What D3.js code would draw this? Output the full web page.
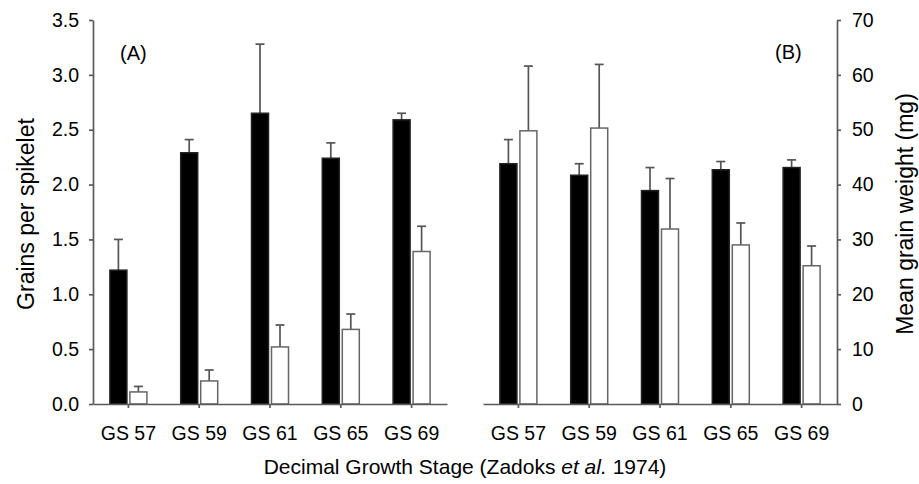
<!DOCTYPE html>
<html>
<head>
<meta charset="utf-8">
<script src="https://cdn.jsdelivr.net/npm/d3@7/dist/d3.min.js"></script>
<style>
  html, body { margin: 0; padding: 0; background: #fff; }
  svg { display: block; font-family: Arial, "Liberation Sans", Helvetica, sans-serif; }
</style>
</head>
<body>
<svg id="chart" width="919" height="484"></svg>
<script>
// Growth stages on the x axis of both panels
const stages = ["GS 57", "GS 59", "GS 61", "GS 65", "GS 69"];

// Panel A: grains per spikelet (mean and upper error)
const grainsBlack    = [1.22, 2.29, 2.65, 2.24, 2.59];
const grainsBlackErr = [0.28, 0.12, 0.63, 0.14, 0.06];
const grainsWhite    = [0.11, 0.21, 0.52, 0.68, 1.39];
const grainsWhiteErr = [0.05, 0.10, 0.20, 0.14, 0.23];

// Panel B: mean grain weight in mg (mean and upper error)
const weightBlack    = [43.8, 41.7, 38.9, 42.7, 43.1];
const weightBlackErr = [4.4, 2.1, 4.2, 1.5, 1.4];
const weightWhite    = [49.8, 50.3, 31.9, 29.0, 25.2];
const weightWhiteErr = [11.8, 11.6, 9.2, 4.0, 3.6];

// Tick values
const grainTicks  = [0, 0.5, 1.0, 1.5, 2.0, 2.5, 3.0, 3.5];
const weightTicks = [0, 10, 20, 30, 40, 50, 60, 70];

const svg = d3.select("#chart");
const axisColor = "#5a5a5a";
const plotTop = 20, base = 404;

const yL = d3.scaleLinear().domain([0, 3.5]).range([base, plotTop]);
const yR = d3.scaleLinear().domain([0, 70]).range([base, plotTop]);
const xL = d3.scaleBand().domain(stages).range([93, 447]);
const xR = d3.scaleBand().domain(stages).range([483, 837]);
// Position of the two bars within a stage
const sub = d3.scaleBand().domain(["black", "white"]).range([0, 37]).paddingInner(0.15);

function panel(x, y, blackVals, blackErr, whiteVals, whiteErr) {
  const g = svg.append("g");
  const rows = stages.map((s, i) => ({
    s,
    groups: [
      { k: "black", v: blackVals[i], e: blackErr[i] },
      { k: "white", v: whiteVals[i], e: whiteErr[i] }
    ]
  }));
  const grp = g.selectAll("g.stage").data(rows).join("g")
    .attr("class", "stage")
    .attr("transform", d => `translate(${x(d.s) + x.bandwidth() / 2 - 18.5},0)`);
  const items = grp.selectAll("g.item").data(d => d.groups).join("g").attr("class", "item");
  // error bars (upper only)
  items.append("line")
    .attr("x1", d => sub(d.k) + sub.bandwidth() / 2)
    .attr("x2", d => sub(d.k) + sub.bandwidth() / 2)
    .attr("y1", d => y(d.v))
    .attr("y2", d => y(d.v + d.e))
    .attr("stroke", "#555").attr("stroke-width", 1.7);
  items.append("line")
    .attr("x1", d => sub(d.k) + sub.bandwidth() / 2 - 4.5)
    .attr("x2", d => sub(d.k) + sub.bandwidth() / 2 + 4.5)
    .attr("y1", d => y(d.v + d.e))
    .attr("y2", d => y(d.v + d.e))
    .attr("stroke", "#555").attr("stroke-width", 1.7);
  // bars
  items.append("rect")
    .attr("x", d => sub(d.k))
    .attr("width", sub.bandwidth())
    .attr("y", d => y(d.v))
    .attr("height", d => base - y(d.v))
    .attr("fill", d => d.k === "black" ? "#000" : "#fff")
    .attr("stroke", d => d.k === "black" ? "#222" : "#666")
    .attr("stroke-width", 1.5);
  // x axis
  const xa = g.append("g").attr("transform", `translate(0,${base})`)
    .call(d3.axisBottom(x).tickSize(4).tickSizeOuter(0).tickPadding(18));
  return xa;
}

const xaL = panel(xL, yL, grainsBlack, grainsBlackErr, grainsWhite, grainsWhiteErr);
const xaR = panel(xR, yR, weightBlack, weightBlackErr, weightWhite, weightWhiteErr);

const ya = svg.append("g").attr("transform", "translate(93,0)")
  .call(d3.axisLeft(yL).tickValues(grainTicks).tickFormat(d3.format(".1f"))
    .tickSize(4).tickSizeOuter(0).tickPadding(10));
const yb = svg.append("g").attr("transform", "translate(837,0)")
  .call(d3.axisRight(yR).tickValues(weightTicks).tickFormat(d3.format("d"))
    .tickSize(4).tickSizeOuter(0).tickPadding(11));

[xaL, xaR, ya, yb].forEach(a => {
  a.select(".domain").attr("stroke", axisColor).attr("stroke-width", 1.7);
  a.selectAll(".tick line").attr("stroke", axisColor).attr("stroke-width", 1.7);
  a.selectAll(".tick text").attr("fill", "#000").attr("font-size", 19.5)
    .attr("font-family", "Arial, 'Liberation Sans', sans-serif");
});

// panel labels
svg.append("text").attr("x", 120).attr("y", 60).attr("font-size", 20).attr("fill", "#000").text("(A)");
svg.append("text").attr("x", 775).attr("y", 59).attr("font-size", 20).attr("fill", "#000").text("(B)");

// axis titles
svg.append("text")
  .attr("transform", "translate(26,214) rotate(-90)")
  .attr("text-anchor", "middle").attr("dominant-baseline", "central")
  .attr("font-size", 23).attr("fill", "#000")
  .text("Grains per spikelet");
svg.append("text")
  .attr("transform", "translate(905,214) rotate(-90)")
  .attr("text-anchor", "middle").attr("dominant-baseline", "central")
  .attr("font-size", 23).attr("fill", "#000")
  .text("Mean grain weight (mg)");

const xt = svg.append("text")
  .attr("x", 465).attr("y", 474)
  .attr("text-anchor", "middle").attr("font-size", 21).attr("fill", "#000");
xt.append("tspan").text("Decimal Growth Stage (Zadoks ");
xt.append("tspan").attr("font-style", "italic").text("et al.");
xt.append("tspan").text(" 1974)");
</script>
</body>
</html>
